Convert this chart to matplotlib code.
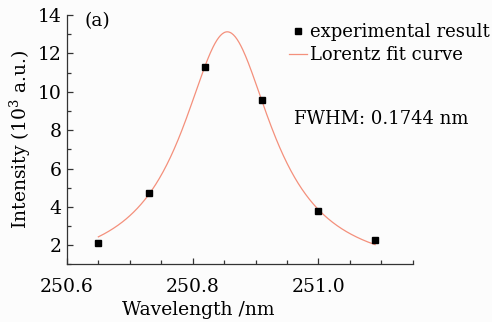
import numpy as np
import matplotlib
matplotlib.use("Agg")
import matplotlib.pyplot as plt
from matplotlib.ticker import MultipleLocator

# --- data ---
wavelength = [250.65, 250.73, 250.82, 250.91, 251.00, 251.09]
intensity = [2.12, 4.72, 11.32, 9.58, 3.80, 2.28]

# Lorentz fit parameters
xc = 250.855
fwhm = 0.1744
amp = 12.63
y0 = 0.5

plt.rcParams['font.family'] = ['DejaVu Serif']
plt.rcParams['mathtext.fontset'] = 'dejavuserif'

fig = plt.figure(figsize=(4.92, 3.22), dpi=100, facecolor='#fcfcfc')
ax = fig.add_axes([0.136, 0.179, 0.703, 0.774])
ax.set_facecolor('#fcfcfc')

# fit curve
xf = np.linspace(wavelength[0], wavelength[-1], 300)
hw2 = (fwhm / 2) ** 2
yf = y0 + amp * hw2 / ((xf - xc) ** 2 + hw2)
ax.plot(xf, yf, color='#f4907c', lw=0.9, label='Lorentz fit curve')
ax.plot(wavelength, intensity, 's', color='black', ms=4.3, ls='none',
        label='experimental result')

ax.set_xlim(250.6, 251.15)
ax.set_ylim(1, 14)
ax.xaxis.set_major_locator(MultipleLocator(0.2))
ax.xaxis.set_minor_locator(MultipleLocator(0.05))
ax.yaxis.set_major_locator(MultipleLocator(2))
ax.yaxis.set_minor_locator(MultipleLocator(1))
ax.xaxis.set_major_formatter(matplotlib.ticker.FormatStrFormatter('%.1f'))

for s in ['top', 'right']:
    ax.spines[s].set_visible(False)
for s in ['left', 'bottom']:
    ax.spines[s].set_color('#333333')
    ax.spines[s].set_linewidth(0.9)
ax.tick_params(which='both', direction='in', color='#333333', labelsize=13.5)
ax.tick_params(which='major', length=4, width=0.9)
ax.tick_params(which='minor', length=3, width=0.9)
ax.tick_params(axis='x', pad=10)
ax.tick_params(axis='y', pad=4)

ax.set_xlabel('Wavelength /nm', fontsize=13.5, va='center')
ax.xaxis.set_label_coords(0.38, -0.185)
ax.set_ylabel('Intensity (10$^3$ a.u.)', fontsize=13.5, labelpad=3)

handles, labels = ax.get_legend_handles_labels()
leg = ax.legend(handles[::-1], labels[::-1], loc='upper right',
                bbox_to_anchor=(1.25, 1.005), frameon=False, fontsize=13,
                handlelength=1.0, handletextpad=0.2, labelspacing=0.3,
                borderpad=0)

ax.text(0.656, 0.583, 'FWHM: 0.1744 nm', transform=ax.transAxes, fontsize=13,
        va='center')
ax.text(0.05, 0.975, '(a)', transform=ax.transAxes, fontsize=13.5,
        va='center')

fig.savefig('out.png', dpi=100, facecolor=fig.get_facecolor())
